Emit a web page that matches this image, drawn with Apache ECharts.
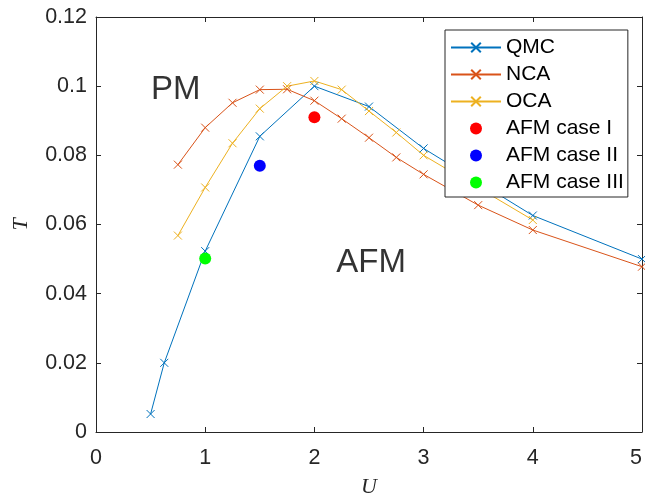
<!DOCTYPE html>
<html>
<head>
<meta charset="utf-8">
<script src="https://cdn.jsdelivr.net/npm/echarts@6/dist/echarts.min.js"></script>
<style>html,body{margin:0;padding:0;background:#fff;}#c{width:645px;height:495px;}</style>
</head>
<body>
<div id="c"></div>
<script>
// ---- data ----
var qmcU = [0.5, 0.625, 1, 1.5, 2, 2.5, 3, 4, 5];
var qmcT = [0.0052, 0.0200, 0.0523, 0.0855, 0.1000, 0.0941, 0.0820, 0.0626, 0.0500];
var ncaU = [0.75, 1, 1.25, 1.5, 1.75, 2, 2.25, 2.5, 2.75, 3, 3.5, 4, 5];
var ncaT = [0.0773, 0.0880, 0.0952, 0.0990, 0.0991, 0.0958, 0.0906, 0.0851, 0.0794, 0.0745, 0.0656, 0.0584, 0.0478];
var ocaU = [0.75, 1, 1.25, 1.5, 1.75, 2, 2.25, 2.5, 2.75, 3, 4];
var ocaT = [0.0568, 0.0707, 0.0835, 0.0935, 0.1000, 0.1015, 0.0990, 0.0928, 0.0866, 0.0800, 0.0613];
var caseI = [2.0, 0.0910];
var caseII = [1.5, 0.0770];
var caseIII = [1.0, 0.0502];
var xTicks = ['0', '1', '2', '3', '4', '5'];
var yTicks = ['0', '0.02', '0.04', '0.06', '0.08', '0.1', '0.12'];
var annotations = [{text: 'PM', u: 0.73, t: 0.0990}, {text: 'AFM', u: 2.52, t: 0.0488}];

function zip(a, b) { return a.map(function (v, i) { return [v, b[i]]; }); }

var FONT = 'Liberation Sans';
var AX = '#262626';
var xMark = 'path://M0,0L10,10M10,0L0,10';

function lineSeries(name, u, t, color) {
  return {
    name: name, type: 'line', data: zip(u, t),
    symbol: xMark, symbolSize: 8,
    lineStyle: {color: color, width: 1},
    itemStyle: {color: color, borderColor: color, borderWidth: 1},
    emphasis: {disabled: true}, z: 3
  };
}
function dotSeries(name, p, color) {
  return {
    name: name, type: 'scatter', data: [p], symbol: 'circle', symbolSize: 12,
    itemStyle: {color: color, opacity: 1}, emphasis: {disabled: true}, z: 4
  };
}

var baseX = {type: 'value', min: 0, max: 5, interval: 1, splitLine: {show: false}};
var baseY = {type: 'value', min: 0, max: 0.12, interval: 0.02, splitLine: {show: false}};

var chart = echarts.init(document.getElementById('c'), null, {renderer: 'canvas'});
chart.setOption({
  backgroundColor: '#fff',
  animation: false,
  grid: {left: 96, right: 3, top: 17, bottom: 63, containLabel: false, outerBoundsMode: 'none'},
  xAxis: [
    Object.assign({}, baseX, {
      position: 'bottom',
      axisLine: {onZero: false, lineStyle: {color: AX, width: 1}},
      axisTick: {inside: true, length: 5, lineStyle: {color: AX}},
      axisLabel: {fontFamily: FONT, fontSize: 21.5, color: AX, margin: 15, alignMaxLabel: 'right',
        formatter: function (v) { return xTicks[Math.round(v)]; }},
      name: 'U', nameLocation: 'middle', nameGap: 44,
      nameTextStyle: {fontFamily: 'Liberation Serif', fontStyle: 'italic', fontSize: 22, color: AX}
    }),
    Object.assign({}, baseX, {
      position: 'top',
      axisLine: {onZero: false, lineStyle: {color: AX, width: 1}},
      axisTick: {inside: true, length: 5, lineStyle: {color: AX}},
      axisLabel: {show: false}
    })
  ],
  yAxis: [
    Object.assign({}, baseY, {
      position: 'left',
      axisLine: {show: true, onZero: false, lineStyle: {color: AX, width: 1}},
      axisTick: {show: true, inside: true, length: 5, lineStyle: {color: AX}},
      axisLabel: {fontFamily: FONT, fontSize: 21.5, color: AX, margin: 9,
        formatter: function (v) { return yTicks[Math.round(v / 0.02)]; }},
      name: 'T', nameLocation: 'middle', nameGap: 64,
      nameTextStyle: {fontFamily: 'Liberation Serif', fontStyle: 'italic', fontSize: 22, color: AX}
    }),
    Object.assign({}, baseY, {
      position: 'right',
      axisLine: {show: true, onZero: false, lineStyle: {color: AX, width: 1}},
      axisTick: {show: true, inside: true, length: 5, lineStyle: {color: AX}},
      axisLabel: {show: false}
    })
  ],
  legend: {
    orient: 'vertical', left: 445, top: 30,
    data: ['QMC', 'NCA', 'OCA', 'AFM case I', 'AFM case II', 'AFM case III'],
    itemWidth: 50, itemHeight: 12, itemGap: 6,
    padding: [7, 4, 4, 5],
    backgroundColor: '#fff', borderColor: AX, borderWidth: 1, borderRadius: 0,
    textStyle: {fontFamily: FONT, fontSize: 21, color: '#000', lineHeight: 21},
    selectedMode: false
  },
  series: [
    lineSeries('QMC', qmcU, qmcT, '#0072BD'),
    lineSeries('NCA', ncaU, ncaT, '#D95319'),
    lineSeries('OCA', ocaU, ocaT, '#EDB120'),
    dotSeries('AFM case I', caseI, '#FF0000'),
    dotSeries('AFM case II', caseII, '#0000FF'),
    dotSeries('AFM case III', caseIII, '#00FF00'),
    {
      name: 'annot', type: 'scatter', symbolSize: 0, silent: true,
      data: annotations.map(function (a) { return {value: [a.u, a.t], label: {formatter: a.text}}; }),
      label: {show: true, position: 'inside', fontFamily: FONT, fontSize: 33, color: '#000'},
      z: 5
    }
  ]
});
</script>
</body>
</html>
